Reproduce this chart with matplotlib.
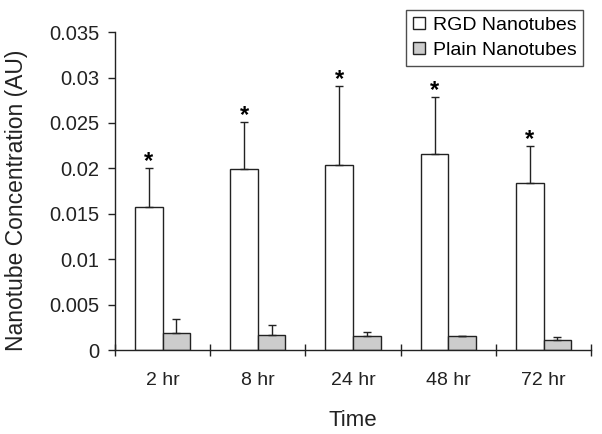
import matplotlib
matplotlib.use("Agg")
import matplotlib.pyplot as plt
import numpy as np

plt.rcParams["font.family"] = ["Liberation Sans", "DejaVu Sans"]

times = ["2 hr", "8 hr", "24 hr", "48 hr", "72 hr"]
rgd = [0.01575, 0.0199, 0.0204, 0.02155, 0.0184]
rgd_err = [0.0043, 0.0052, 0.0087, 0.0063, 0.0041]
plain = [0.0019, 0.0016, 0.0015, 0.0015, 0.0011]
plain_err = [0.0015, 0.0012, 0.0005, 0.0, 0.0003]
signif = [True, True, True, True, True]

fig = plt.figure(figsize=(6.02, 4.34), dpi=100)
ax = fig.add_axes([0.191, 0.1935, 0.791, 0.7325])

x = np.arange(len(times))
w = 0.29
ekw = dict(ecolor="#222222", elinewidth=1.0, capsize=3, capthick=1.0)
ax.bar(x - w / 2, rgd, w, yerr=[np.zeros(len(rgd)), rgd_err],
       color="white", edgecolor="#222222", linewidth=1.0,
       error_kw=ekw, label="RGD Nanotubes", zorder=2)
ax.bar(x + w / 2, plain, w, yerr=[np.zeros(len(plain)), plain_err],
       color="#cccccc", edgecolor="#222222", linewidth=1.0,
       error_kw=ekw, label="Plain Nanotubes", zorder=2)

# significance stars above the RGD error bars
for xi, v, e, s in zip(x, rgd, rgd_err, signif):
    if s:
        ax.annotate("*", (xi - w / 2, v + e), xytext=(0, 0),
                    textcoords="offset points", ha="center", va="baseline",
                    fontsize=17, fontweight="bold")

ax.set_xlim(-0.5, len(times) - 0.5)
ax.set_ylim(0, 0.035)
ax.set_yticks(np.arange(0, 0.0351, 0.005))
ax.set_yticklabels(["0", "0.005", "0.01", "0.015", "0.02", "0.025",
                    "0.03", "0.035"])
ax.set_xticks(x)
ax.set_xticklabels(times)
ax.set_xticks(np.arange(-0.5, len(times), 1.0), minor=True)
ax.tick_params(axis="x", which="major", length=0, labelsize=14, pad=16,
               colors="#222222")
ax.tick_params(axis="x", which="minor", direction="inout", length=9,
               width=1.0, color="#222222")
ax.tick_params(axis="y", direction="out", length=5, width=1.0, pad=6,
               labelsize=14.5, color="#222222", labelcolor="#222222")
for side in ["top", "right"]:
    ax.spines[side].set_visible(False)
for side in ["left", "bottom"]:
    ax.spines[side].set_linewidth(1.0)
    ax.spines[side].set_color("#222222")

ax.set_xlabel("Time", fontsize=16, labelpad=15, color="#222222")
ax.set_ylabel("Nanotube Concentration (AU)", fontsize=16.5, color="#222222")
ax.yaxis.set_label_coords(-0.183, 0.47)

leg = ax.legend(loc="upper right", bbox_to_anchor=(0.983, 1.069), fontsize=14,
                frameon=True, fancybox=False, edgecolor="#222222",
                handlelength=0.6, handleheight=0.6, handletextpad=0.4,
                borderpad=0.35, labelspacing=0.4, borderaxespad=0.0)
leg.get_frame().set_linewidth(1.0)

fig.savefig("out.png", dpi=100)
